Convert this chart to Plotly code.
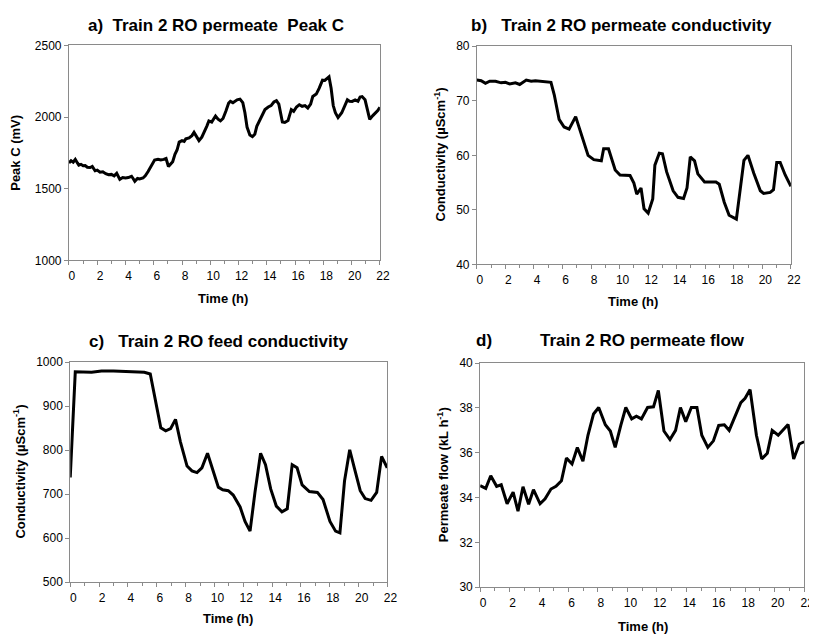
import plotly.graph_objects as go

# ---------------- data ----------------
a_time = [0.0, 0.15, 0.3, 0.45, 0.6, 0.7, 0.85, 1.0, 1.15, 1.3, 1.5, 1.65, 1.85, 2.0, 2.2, 2.4, 2.6, 2.8,
          3.0, 3.2, 3.38, 3.5, 3.6, 3.8, 4.0, 4.2, 4.43, 4.55, 4.66, 4.85, 5.0, 5.24, 5.4, 5.6, 5.8, 6.06,
          6.3, 6.5, 6.7, 6.87, 7.04, 7.2, 7.34, 7.5, 7.65, 7.8, 8.0, 8.15, 8.27, 8.5, 8.7, 8.85, 9.0, 9.2,
          9.4, 9.6, 9.75, 9.9, 10.1, 10.37, 10.55, 10.72, 10.9, 11.1, 11.3, 11.42, 11.6, 11.9, 12.1, 12.3,
          12.45, 12.6, 12.8, 12.98, 13.15, 13.29, 13.5, 13.7, 13.87, 14.1, 14.3, 14.5, 14.68, 14.85, 15.0,
          15.1, 15.27, 15.5, 15.73, 15.9, 16.1, 16.3, 16.5, 16.7, 16.9, 17.1, 17.25, 17.5, 17.7, 17.94,
          18.1, 18.25, 18.4, 18.55, 18.7, 18.85, 19.04, 19.3, 19.5, 19.7, 19.85, 20.04, 20.25, 20.45,
          20.6, 20.74, 20.95, 21.1, 21.28, 21.5, 21.7, 21.85, 22.0]
a_peak_c = [1680, 1695, 1685, 1705, 1680, 1665, 1670, 1660, 1662, 1650, 1648, 1655, 1625, 1630, 1615, 1618,
            1605, 1598, 1600, 1590, 1608, 1580, 1565, 1578, 1575, 1578, 1587, 1570, 1552, 1572, 1568, 1575,
            1590, 1620, 1655, 1700, 1705, 1700, 1705, 1711, 1655, 1670, 1689, 1740, 1770, 1825, 1835, 1830,
            1848, 1855, 1870, 1893, 1870, 1836, 1860, 1900, 1935, 1973, 1965, 2007, 1985, 1973, 1990, 2040,
            2098, 2109, 2100, 2120, 2125, 2100, 2030, 1930, 1875, 1864, 1880, 1935, 1980, 2020, 2052, 2070,
            2080, 2105, 2114, 2090, 2010, 1965, 1962, 1975, 2052, 2040, 2070, 2086, 2075, 2080, 2063, 2090,
            2143, 2160, 2200, 2257, 2255, 2270, 2280, 2200, 2080, 2030, 1996, 2030, 2070, 2120, 2110, 2109,
            2120, 2110, 2140, 2143, 2120, 2060, 1984, 2010, 2030, 2045, 2068]

b_time = [0, 0.3, 0.6, 0.9, 1.3, 1.7, 2.0, 2.3, 2.7, 3.0, 3.46, 3.8, 4.1, 4.5, 4.84, 5.19, 5.42, 5.76, 6.11,
          6.46, 6.92, 7.38, 7.79, 8.19, 8.72, 8.88, 9.22, 9.69, 10.03, 10.73, 11.0, 11.2, 11.5, 11.71, 12.0,
          12.32, 12.47, 12.78, 13.0, 13.29, 13.75, 14.09, 14.48, 14.72, 14.95, 15.25, 15.48, 15.95, 16.75,
          16.98, 17.33, 17.67, 18.18, 18.48, 18.71, 18.99, 19.4, 19.86, 20.09, 20.55, 20.78, 21.01, 21.25,
          21.6, 22.0]
b_perm_cond = [73.8, 73.7, 73.2, 73.6, 73.6, 73.3, 73.4, 73.1, 73.3, 73.0, 73.8, 73.6, 73.7, 73.6, 73.6, 73.4,
               71.1, 66.6, 65.2, 64.8, 67.1, 63.3, 60.0, 59.2, 59.0, 61.2, 61.2, 57.3, 56.4, 56.3, 54.9, 52.9,
               54.0, 50.2, 49.4, 52.0, 58.2, 60.4, 60.3, 57.0, 53.5, 52.3, 52.1, 54.0, 59.7, 59.0, 56.6, 55.1,
               55.1, 54.7, 51.4, 49.0, 48.3, 54.4, 59.1, 60.0, 56.7, 53.5, 53.0, 53.2, 53.7, 58.7, 58.7, 56.4,
               54.3]

c_time = [0, 0.35, 1.48, 2.17, 3.0, 4.0, 5.14, 5.55, 5.94, 6.28, 6.62, 6.96, 7.3, 7.64, 8.1, 8.44, 8.79, 9.13,
          9.52, 9.88, 10.27, 10.57, 10.96, 11.3, 11.78, 12.12, 12.47, 12.81, 13.2, 13.54, 13.9, 14.29, 14.68,
          15.05, 15.39, 15.73, 16.08, 16.58, 17.14, 17.53, 18.01, 18.4, 18.7, 19.02, 19.38, 19.73, 20.11,
          20.45, 20.86, 21.25, 21.59, 21.98]
c_feed_cond = [738, 978, 977, 980, 980, 979, 977, 973, 912, 851, 844, 849, 870, 819, 764, 753, 749, 760, 793,
               756, 716, 710, 708, 698, 671, 638, 616, 704, 793, 767, 712, 673, 660, 667, 767, 760, 721, 706,
               704, 688, 638, 616, 612, 730, 801, 756, 708, 690, 686, 704, 786, 760]

d_time = [0, 0.38, 0.72, 1.12, 1.43, 1.83, 2.24, 2.57, 2.91, 3.29, 3.62, 4.07, 4.41, 4.81, 5.15, 5.52, 5.86,
          6.24, 6.6, 6.98, 7.32, 7.7, 8.05, 8.5, 8.84, 9.17, 9.55, 9.89, 10.29, 10.61, 10.95, 11.37, 11.77,
          12.1, 12.48, 12.89, 13.27, 13.6, 13.96, 14.34, 14.72, 15.05, 15.46, 15.84, 16.2, 16.58, 16.91,
          17.32, 17.7, 17.99, 18.33, 18.76, 19.12, 19.5, 19.83, 20.24, 20.58, 20.91, 21.29, 21.67, 22.0]
d_perm_flow = [34.53, 34.41, 34.97, 34.50, 34.57, 33.72, 34.24, 33.39, 34.48, 33.70, 34.35, 33.72, 33.94, 34.38,
               34.50, 34.75, 35.76, 35.50, 36.23, 35.62, 36.78, 37.73, 38.02, 37.25, 36.97, 36.24, 37.22, 38.02,
               37.51, 37.63, 37.51, 38.02, 38.05, 38.78, 36.97, 36.59, 37.00, 38.02, 37.39, 38.02, 38.02, 36.78,
               36.24, 36.53, 37.22, 37.25, 37.00, 37.61, 38.24, 38.43, 38.82, 36.78, 35.72, 35.98, 37.00, 36.78,
               37.03, 37.26, 35.72, 36.39, 36.49]

x_ticks = [0, 2, 4, 6, 8, 10, 12, 14, 16, 18, 20, 22]

# ---------------- figure ----------------
W, H = 817, 635
FONT = "Arial, 'Liberation Sans', sans-serif"
AXC = "#8a8a8a"

def dx(a, b):
    return [a / W, b / W]

def dy(top, bottom):
    return [1 - bottom / H, 1 - top / H]

fig = go.Figure()
series = [(a_time, a_peak_c), (b_time, b_perm_cond), (c_time, c_feed_cond), (d_time, d_perm_flow)]
for i, (xs, ys) in enumerate(series, start=1):
    fig.add_trace(go.Scatter(x=xs, y=ys, mode="lines",
                             line=dict(color="black", width=3),
                             xaxis=f"x{i}" if i > 1 else "x",
                             yaxis=f"y{i}" if i > 1 else "y",
                             showlegend=False, hoverinfo="skip"))

panels = [
    dict(xd=dx(61.7, 376.5), yd=dy(31, 251), yr=[1000, 2500], ydt=500),
    dict(xd=dx(474.7, 792.6), yd=dy(32, 255), yr=[40, 80], ydt=10),
    dict(xd=dx(63, 384.2), yd=dy(355, 580), yr=[500, 1000], ydt=100),
    dict(xd=dx(478, 806), yd=dy(356, 585), yr=[30, 40], ydt=2),
]

layout = dict(width=W, height=H, margin=dict(l=0, r=0, t=0, b=0),
              paper_bgcolor="white", plot_bgcolor="white",
              font=dict(family=FONT, size=12, color="black"))
for i, p in enumerate(panels, start=1):
    sfx = "" if i == 1 else str(i)
    layout["xaxis" + sfx] = dict(domain=p["xd"], range=[0, 22], anchor="y" + sfx,
                                 tickvals=x_ticks, ticks="outside", ticklen=4, tickcolor=AXC,
                                 showline=True, linecolor=AXC, linewidth=1, mirror=True,
                                 showgrid=False, zeroline=False, ticklabelshift=3,
                                 tickfont=dict(size=12, family=FONT),
                                 minor=dict(dtick=1, tick0=0, ticks="outside", ticklen=3,
                                            tickcolor=AXC, showgrid=False))
    layout["yaxis" + sfx] = dict(domain=p["yd"], range=p["yr"], anchor="x" + sfx,
                                 dtick=p["ydt"], tick0=p["yr"][0], ticks="outside", ticklen=4,
                                 tickcolor=AXC, showline=True, linecolor=AXC, linewidth=1,
                                 mirror=True, showgrid=False, zeroline=False,
                                 tickfont=dict(size=12, family=FONT))
fig.update_layout(**layout)

def ann(text, x, y, size, angle=0, bold=True):
    fig.add_annotation(text=f"<b>{text}</b>" if bold else text, x=x / W, y=1 - y / H,
                       xref="paper", yref="paper", xanchor="center", yanchor="middle",
                       showarrow=False, textangle=angle,
                       font=dict(family=FONT, size=size, color="black"))

# panel titles
ann("a)&nbsp;&nbsp;Train 2 RO permeate&nbsp;&nbsp;Peak C", 211, 11, 17)
ann("b)&nbsp;&nbsp;&nbsp;Train 2 RO permeate conductivity", 621, 11, 17)
ann("c)&nbsp;&nbsp;&nbsp;Train 2 RO feed conductivity", 213, 334, 17)
ann("d)", 482, 333, 17)
ann("Train 2 RO permeate flow", 642, 333, 17)

# x axis titles
ann("Time (h)", 218, 290, 13)
ann("Time (h)", 633, 293, 13)
ann("Time (h)", 223, 617, 13)
ann("Time (h)", 643, 625, 13)

# y axis titles
ann("Peak C (mV)", 8, 141, 13, angle=-90)
ann("Conductivity (µScm<sup>-1</sup>)", 437, 143, 13, angle=-90)
ann("Conductivity (µScm<sup>-1</sup>)", 11, 467, 13, angle=-90)
ann("Permeate flow (kL h<sup>-1</sup>)", 440, 470, 13, angle=-90)

fig.write_html("out.html")
